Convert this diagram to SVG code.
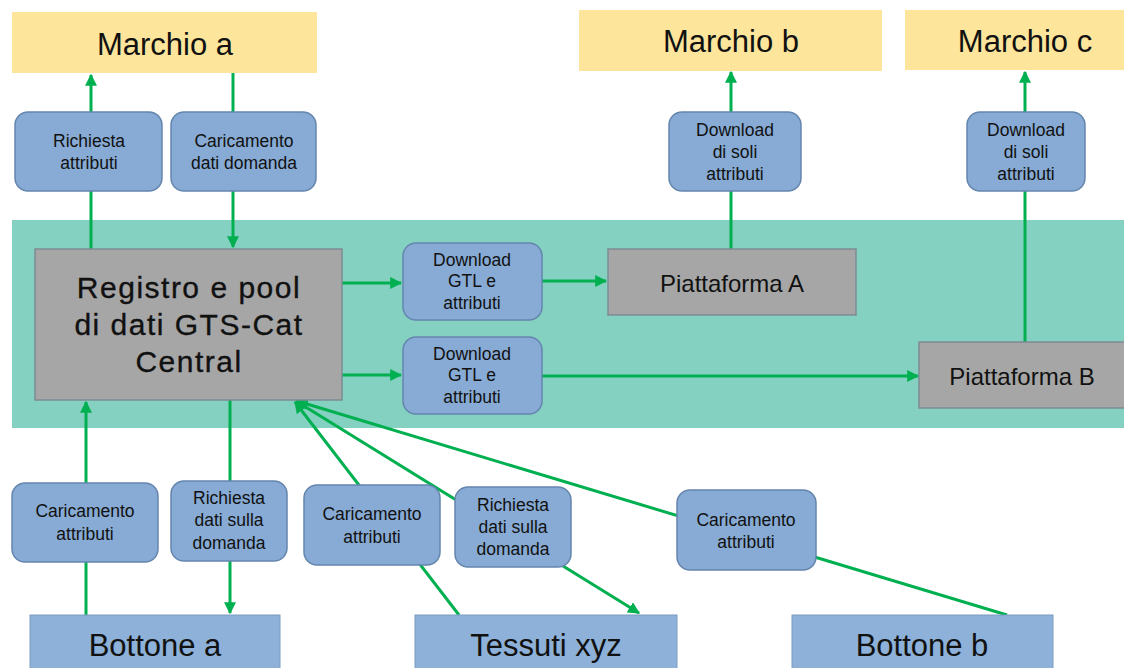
<svg xmlns="http://www.w3.org/2000/svg" width="1124" height="668" viewBox="0 0 1124 668">
<defs>
<style>
text{font-family:"Liberation Sans",Arial,sans-serif;fill:#111;text-anchor:middle;dominant-baseline:central}
.yel{fill:#FDE59B}
.blue{fill:#87ABD4;stroke:#6485AE;stroke-width:1.5}
.big{fill:#8DB1D8;stroke:#7C9CC2;stroke-width:1}
.gray{fill:#A6A6A6;stroke:#7E8A92;stroke-width:1.5}
.t15{font-size:17.5px}
.t28{font-size:31px}
.reg{font-size:30px;letter-spacing:1.5px;stroke:#111;stroke-width:0.35}
.t19{font-size:24px}
.ln{stroke:#00B050;stroke-width:3;fill:none}
</style>
<marker id="ah" viewBox="0 0 10 10" refX="9" refY="5" markerWidth="4" markerHeight="4" orient="auto" markerUnits="strokeWidth">
<path d="M0,0 L10,5 L0,10 z" fill="#00B050"/>
</marker>
</defs>
<rect width="1124" height="668" fill="#fff"/>
<rect id="band" x="12" y="220" width="1112" height="208" fill="#84D1C1"/>

<g id="connectors">
<line class="ln" x1="91" y1="249" x2="91" y2="75" marker-end="url(#ah)"/>
<line class="ln" x1="233" y1="73" x2="233" y2="247" marker-end="url(#ah)"/>
<line class="ln" x1="731" y1="249" x2="731" y2="72" marker-end="url(#ah)"/>
<line class="ln" x1="1025" y1="342" x2="1025" y2="72" marker-end="url(#ah)"/>
<line class="ln" x1="342" y1="283" x2="401" y2="283" marker-end="url(#ah)"/>
<line class="ln" x1="542" y1="281" x2="606" y2="281" marker-end="url(#ah)"/>
<line class="ln" x1="342" y1="375" x2="401" y2="375" marker-end="url(#ah)"/>
<line class="ln" x1="542" y1="376" x2="918" y2="376" marker-end="url(#ah)"/>
<line class="ln" x1="86" y1="615" x2="86" y2="402" marker-end="url(#ah)"/>
<line class="ln" x1="230" y1="400" x2="230" y2="613" marker-end="url(#ah)"/>
<line class="ln" x1="459" y1="615" x2="295" y2="402" marker-end="url(#ah)"/>
<line class="ln" x1="296" y1="401" x2="639" y2="613" marker-end="url(#ah)"/>
<line class="ln" x1="1007" y1="615" x2="297" y2="401" marker-end="url(#ah)"/>
</g>

<g id="marchio-a"><rect class="yel" x="12" y="12" width="305" height="61"/><text class="t28" x="165" y="44">Marchio a</text></g>
<g id="marchio-b"><rect class="yel" x="579" y="10" width="303" height="61"/><text class="t28" x="731" y="41">Marchio b</text></g>
<g id="marchio-c"><rect class="yel" x="905" y="10" width="219" height="60"/><text class="t28" x="1025" y="41">Marchio c</text></g>

<g id="richiesta-attributi"><rect class="blue" x="15" y="112" width="147" height="79" rx="13"/><text class="t15" x="89" y="141">Richiesta</text><text class="t15" x="89" y="163">attributi</text></g>
<g id="caricamento-dati-domanda"><rect class="blue" x="171" y="112" width="145" height="79" rx="13"/><text class="t15" x="244" y="141">Caricamento</text><text class="t15" x="244" y="163">dati domanda</text></g>
<g id="download-soli-b"><rect class="blue" x="669" y="112" width="132" height="79" rx="13"/><text class="t15" x="735" y="130">Download</text><text class="t15" x="735" y="152">di soli</text><text class="t15" x="735" y="174">attributi</text></g>
<g id="download-soli-c"><rect class="blue" x="967" y="112" width="118" height="79" rx="13"/><text class="t15" x="1026" y="130">Download</text><text class="t15" x="1026" y="152">di soli</text><text class="t15" x="1026" y="174">attributi</text></g>

<g id="registro"><rect class="gray" x="35" y="249" width="307" height="151"/>
<text class="reg" x="189" y="287">Registro e pool</text>
<text class="reg" x="189" y="324">di dati GTS-Cat</text>
<text class="reg" x="189" y="361">Central</text></g>

<g id="download-gtl-1"><rect class="blue" x="403" y="243" width="139" height="77" rx="13"/><text class="t15" x="472" y="260">Download</text><text class="t15" x="472" y="281">GTL e</text><text class="t15" x="472" y="303">attributi</text></g>
<g id="download-gtl-2"><rect class="blue" x="403" y="337" width="139" height="77" rx="13"/><text class="t15" x="472" y="354">Download</text><text class="t15" x="472" y="375">GTL e</text><text class="t15" x="472" y="397">attributi</text></g>

<g id="piattaforma-a"><rect class="gray" x="608" y="249" width="248" height="66"/><text class="t19" x="732" y="283">Piattaforma A</text></g>
<g id="piattaforma-b"><rect class="gray" x="919" y="342" width="207" height="66"/><text class="t19" x="1022" y="376">Piattaforma B</text></g>

<g id="caricamento-attributi-a"><rect class="blue" x="12" y="483" width="146" height="79" rx="13"/><text class="t15" x="85" y="511">Caricamento</text><text class="t15" x="85" y="534">attributi</text></g>
<g id="richiesta-dati-a"><rect class="blue" x="171" y="481" width="116" height="80" rx="13"/><text class="t15" x="229" y="498">Richiesta</text><text class="t15" x="229" y="520">dati sulla</text><text class="t15" x="229" y="543">domanda</text></g>
<g id="caricamento-attributi-t"><rect class="blue" x="304" y="485" width="136" height="80" rx="13"/><text class="t15" x="372" y="514">Caricamento</text><text class="t15" x="372" y="537">attributi</text></g>
<g id="richiesta-dati-t"><rect class="blue" x="455" y="487" width="116" height="80" rx="13"/><text class="t15" x="513" y="505">Richiesta</text><text class="t15" x="513" y="527">dati sulla</text><text class="t15" x="513" y="549">domanda</text></g>
<g id="caricamento-attributi-b"><rect class="blue" x="677" y="490" width="139" height="80" rx="13"/><text class="t15" x="746" y="520">Caricamento</text><text class="t15" x="746" y="542">attributi</text></g>

<g id="bottone-a"><rect class="big" x="30" y="615" width="250" height="60"/><text class="t28" x="155" y="645">Bottone a</text></g>
<g id="tessuti-xyz"><rect class="big" x="415" y="615" width="262" height="60"/><text class="t28" x="546" y="645">Tessuti xyz</text></g>
<g id="bottone-b"><rect class="big" x="792" y="615" width="261" height="60"/><text class="t28" x="922" y="645">Bottone b</text></g>
</svg>
